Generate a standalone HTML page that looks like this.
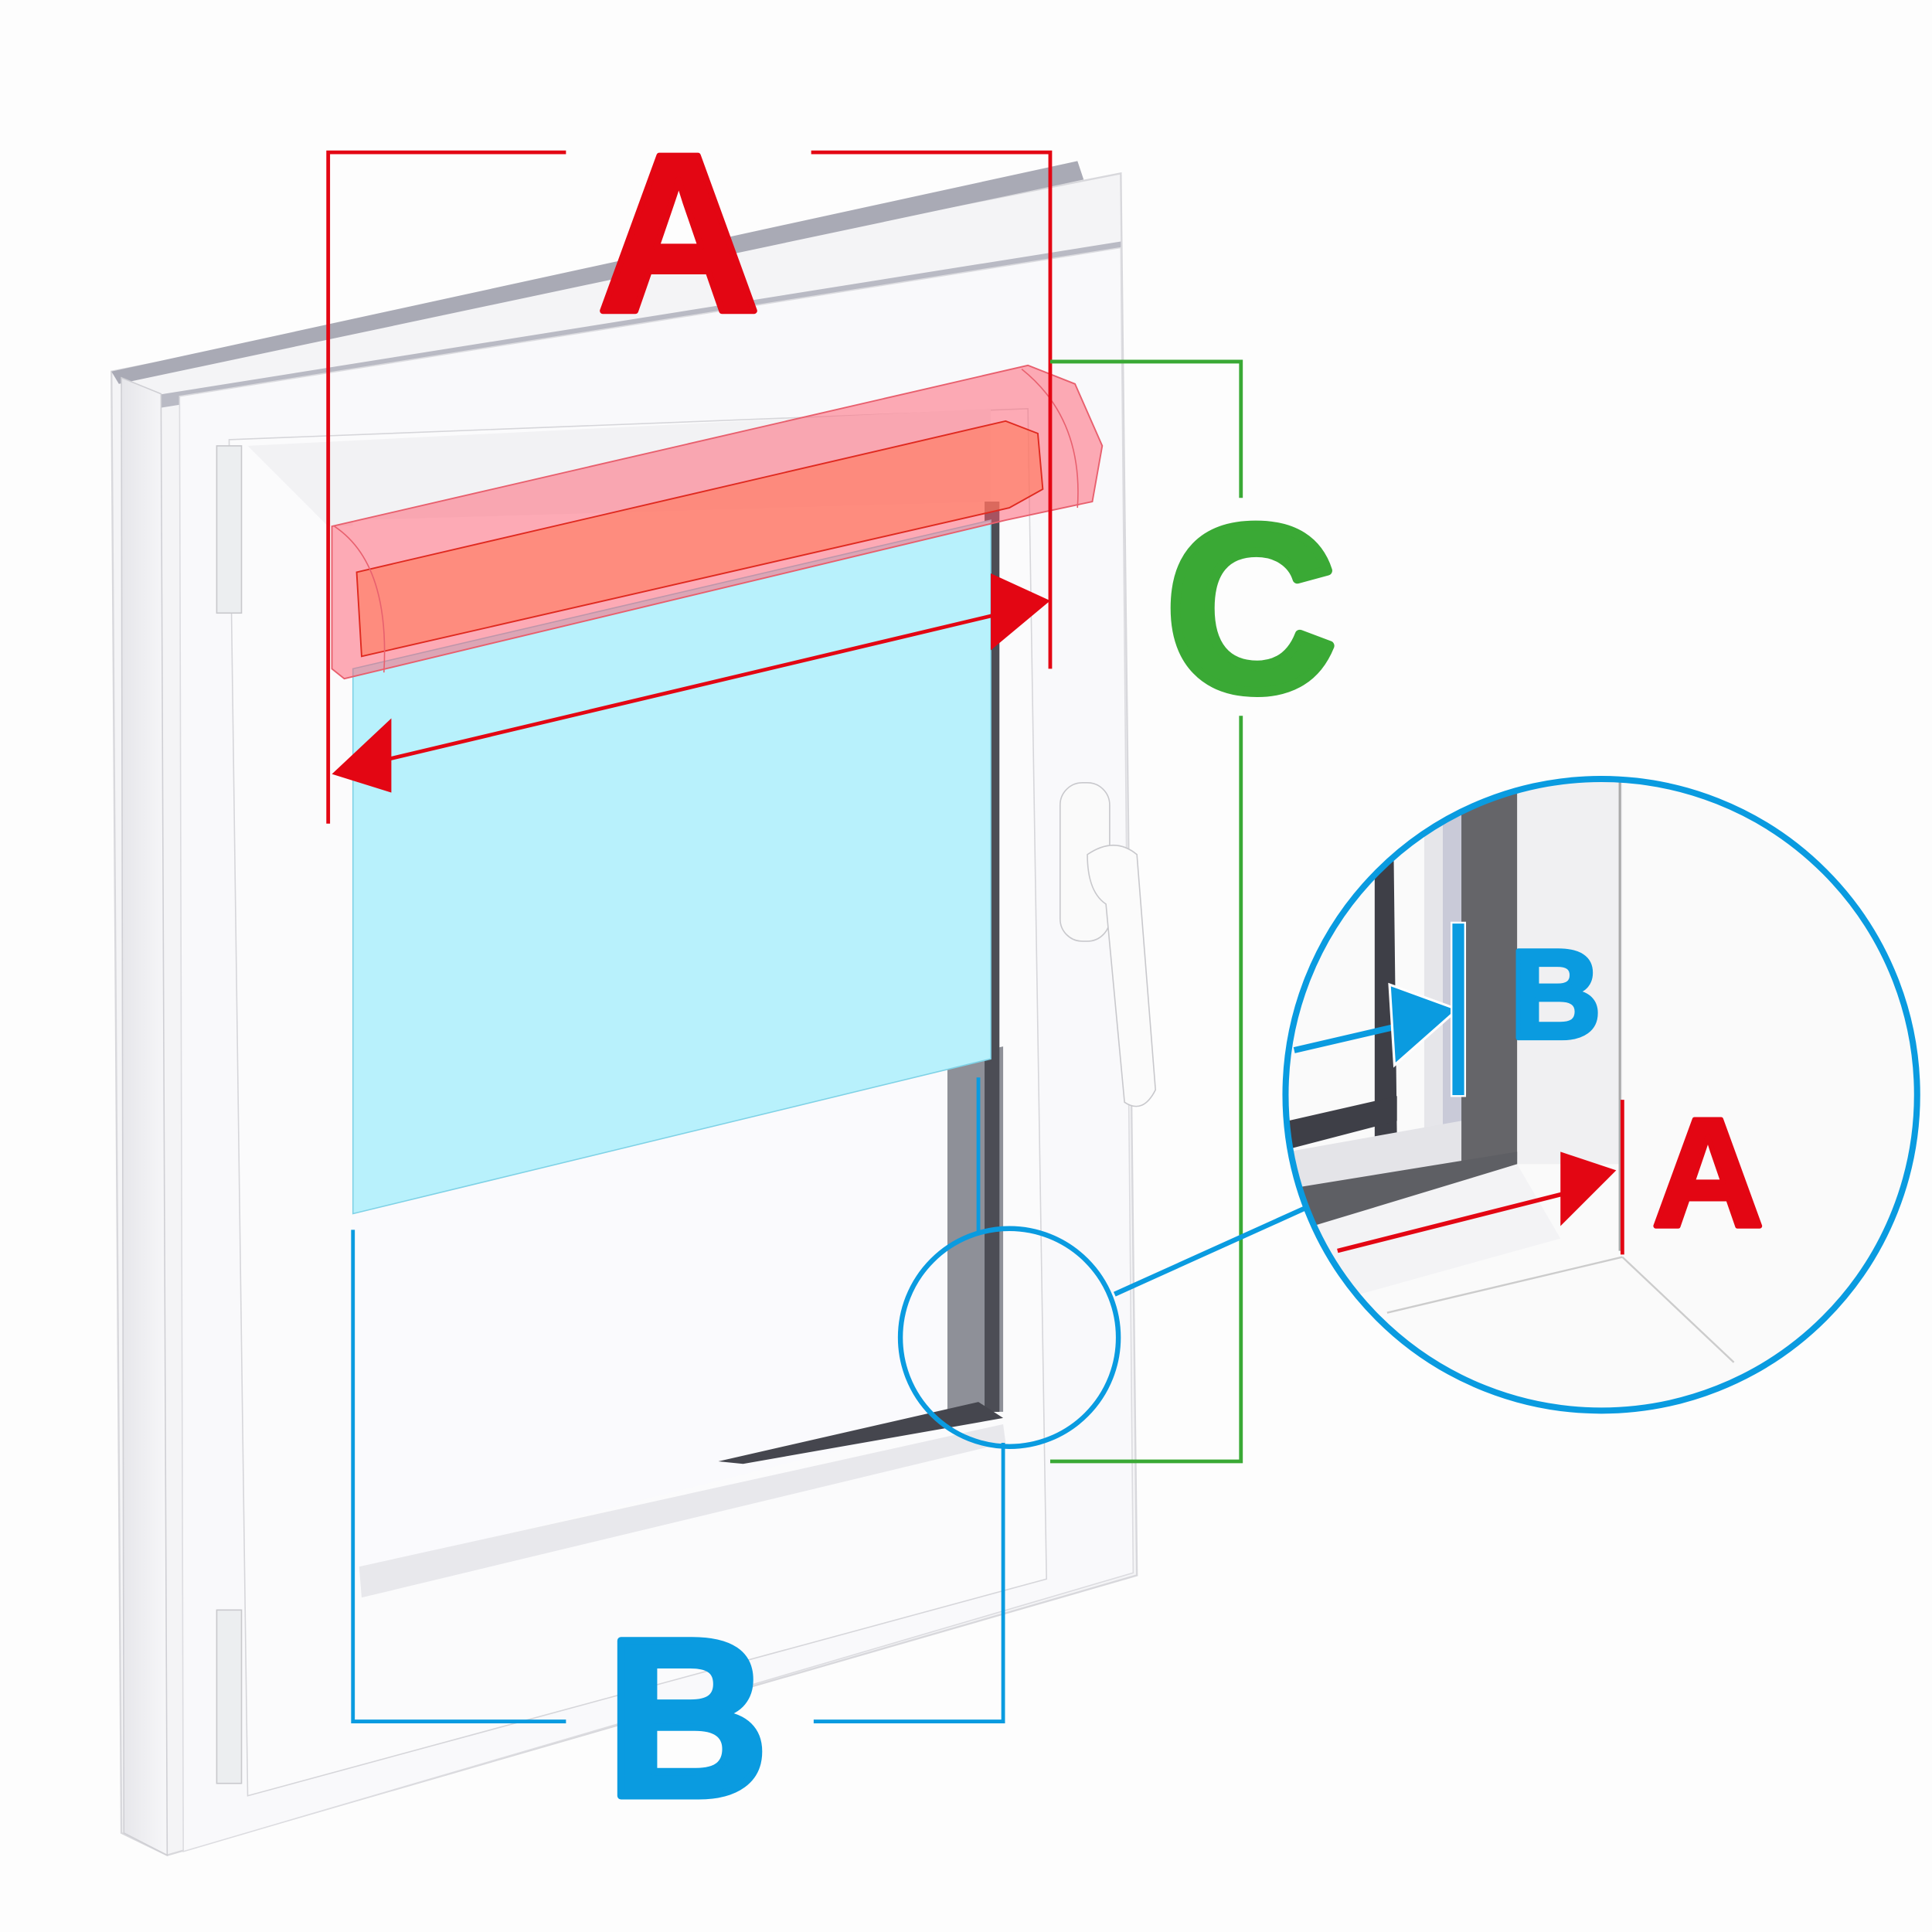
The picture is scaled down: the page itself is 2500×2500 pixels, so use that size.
<!DOCTYPE html>
<html><head><meta charset="utf-8"><style>html,body{margin:0;padding:0;background:#fff}svg{display:block}</style></head>
<body>
<svg width="2500" height="2500" viewBox="0 0 1560 1560" xmlns="http://www.w3.org/2000/svg">
<defs>
<clipPath id="bc"><circle cx="1293" cy="884" r="253"/></clipPath>
<linearGradient id="fr" x1="0" y1="0" x2="1" y2="0"><stop offset="0" stop-color="#e6e6ea"/><stop offset="1" stop-color="#f7f7f9"/></linearGradient>
</defs>
<rect width="1560" height="1560" fill="#fdfdfd"/>
<polygon points="90,300 905,140 918,1272 135,1498 98,1480" fill="#f4f4f6" stroke="#d8d8dc" stroke-width="1.5"/>
<polygon points="90,300 870,130 875,145 96,310" fill="#a9aab5"/>
<polygon points="120,320 905,195 905,205 125,330" fill="#b9bac4"/>
<polygon points="98,305 130,318 135,1498 100,1480" fill="url(#fr)" stroke="#cfcfd4"/>
<polygon points="145,320 905,200 915,1270 148,1495" fill="#f9f9fb" stroke="#dcdce0"/>
<polygon points="185,355 830,330 845,1275 200,1450" fill="#fbfbfc" stroke="#d6d6da"/>
<rect x="175" y="360" width="20" height="135" fill="#eceef0" stroke="#c8c8cc"/>
<rect x="175" y="1300" width="20" height="140" fill="#eceef0" stroke="#c8c8cc"/>
<polygon points="200,360 800,330 800,410 265,425" fill="#f2f2f4"/>
<polygon points="285,420 800,405 800,1140 285,1270" fill="#fafafd"/>
<polygon points="765,855 810,845 810,1140 765,1140" fill="#8e9098"/>
<rect x="795" y="405" width="12" height="735" fill="#4c4d55"/>
<polygon points="580,1180 790,1132 810,1145 600,1182" fill="#45464e"/>
<polygon points="290,1265 810,1150 812,1165 292,1290" fill="#e8e8ec"/>
<polygon points="285,540 800,420 800,855 285,980" fill="#b8f1fc" stroke="#7fd2e6" stroke-width="1"/>
<rect x="856" y="632" width="40" height="128" rx="18" fill="#fafafa" stroke="#c8c8cc"/>
<path d="M878,690 q22,-15 40,0 l15,190 q-10,20 -25,10 l-15,-160 q-15,-10 -15,-40z" fill="#fbfbfb" stroke="#c8c8cc"/>
<polygon points="268,425 830,295 868,310 890,360 882,405 812,420 278,548 268,540" fill="rgba(255,90,110,0.5)" stroke="#e8606e" stroke-width="1.2"/>
<polygon points="288,462 812,340 838,350 842,395 815,410 292,530" fill="rgba(255,120,90,0.6)" stroke="#e02a20" stroke-width="1.2"/>
<path d="M825,298 q50,40 45,112" fill="none" stroke="#e8606e"/>
<path d="M270,425 q45,30 40,118" fill="none" stroke="#e8606e"/>
<g stroke="#e30613" stroke-width="3" fill="none">
<polyline points="457,123 265,123 265,665"/>
<polyline points="655,123 848,123 848,540"/>
<line x1="305" y1="615" x2="810" y2="495"/>
</g>
<polygon points="268,625 316,580 316,640" fill="#e30613"/>
<polygon points="848,485 800,463 800,525" fill="#e30613"/>
<g stroke="#3aa935" stroke-width="3" fill="none">
<polyline points="848,292 1002,292 1002,402"/>
<polyline points="1002,578 1002,1180 848,1180"/>
</g>
<g stroke="#0a9be0" stroke-width="3" fill="none">
<polyline points="285,993 285,1390 457,1390"/>
<polyline points="657,1390 810,1390 810,1165"/>
<line x1="790" y1="870" x2="790" y2="995"/>
<line x1="900" y1="1045" x2="1055" y2="975" stroke-width="4"/>
</g>
<circle cx="815" cy="1080" r="88" fill="none" stroke="#0a9be0" stroke-width="4"/>
<circle cx="1293" cy="884" r="253" fill="#fbfbfb"/>
<g clip-path="url(#bc)">
<rect x="1040" y="620" width="520" height="540" fill="#fafafa"/>
<rect x="1225" y="620" width="85" height="320" fill="#f0f0f2"/>
<line x1="1308" y1="620" x2="1308" y2="1010" stroke="#aaa" stroke-width="2"/>
<rect x="1180" y="620" width="45" height="320" fill="#656569"/>
<rect x="1165" y="620" width="15" height="300" fill="#c9cad8"/>
<rect x="1150" y="620" width="15" height="300" fill="#e6e6ea"/>
<polygon points="1110,680 1125,660 1128,920 1110,922" fill="#3e3f47"/>
<polygon points="1040,905 1128,885 1128,905 1040,928" fill="#3e3f47"/>
<polygon points="1040,930 1180,905 1180,940 1040,965" fill="#e4e4e8"/>
<polygon points="1040,960 1225,930 1225,940 1065,990 1040,995" fill="#5e5f64"/>
<polygon points="1060,990 1225,940 1260,1000 1080,1050" fill="#f3f3f5"/>
<line x1="1120" y1="1060" x2="1310" y2="1015" stroke="#ccc" stroke-width="1.5"/>
<line x1="1310" y1="1015" x2="1400" y2="1100" stroke="#ccc" stroke-width="1.5"/>
</g>
<circle cx="1293" cy="884" r="255" fill="none" stroke="#0a9be0" stroke-width="5"/>
<line x1="1045" y1="848" x2="1140" y2="826" stroke="#0a9be0" stroke-width="5"/>
<polygon points="1177,815 1122,795 1126,860" fill="#0a9be0" stroke="#fff" stroke-width="2"/>
<rect x="1172" y="745" width="11" height="140" fill="#0a9be0" stroke="#fff" stroke-width="1.5"/>
<line x1="1080" y1="1010" x2="1270" y2="962" stroke="#e30613" stroke-width="3.5"/>
<polygon points="1305,945 1260,930 1260,990" fill="#e30613"/>
<line x1="1310" y1="888" x2="1310" y2="1013" stroke="#e30613" stroke-width="3"/>
<g font-family="Liberation Sans, sans-serif" font-weight="bold" stroke-linejoin="round">
<text x="548" y="251" font-size="182" fill="#e30613" stroke="#e30613" stroke-width="5" text-anchor="middle">A</text>
<text x="1010" y="557" font-size="190" fill="#3aa935" stroke="#3aa935" stroke-width="8" text-anchor="middle">C</text>
<text x="555" y="1450" font-size="182" fill="#0a9be0" stroke="#0a9be0" stroke-width="6" text-anchor="middle">B</text>
<text x="1256" y="838" font-size="102" fill="#0a9be0" stroke="#0a9be0" stroke-width="4" text-anchor="middle">B</text>
<text x="1379" y="990" font-size="125" fill="#e30613" stroke="#e30613" stroke-width="4" text-anchor="middle">A</text>
</g>
</svg>
</body></html>
